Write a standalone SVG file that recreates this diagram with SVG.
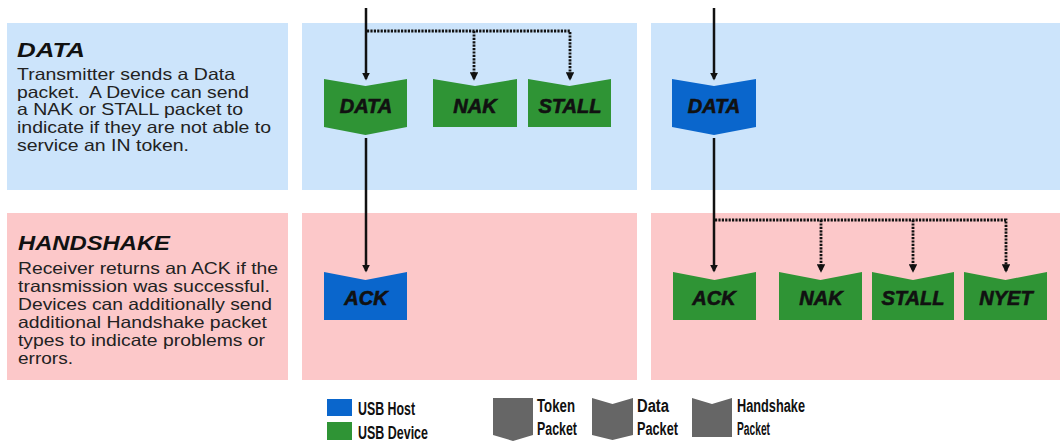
<svg xmlns="http://www.w3.org/2000/svg" width="1060" height="445" viewBox="0 0 1060 445">
<style>
.bg{fill:#fff}
.blue{fill:#cce4fb}
.pink{fill:#fcc8c9}
.host{fill:#0a66cc}
.dev{fill:#2f9435}
.gray{fill:#666}
.lbl{font-family:"Liberation Sans",Arial,sans-serif;font-weight:bold;font-style:italic;font-size:20px;fill:#111;stroke:#111;stroke-width:0.6;text-anchor:middle}
.head{font-family:"Liberation Sans",Arial,sans-serif;font-weight:bold;font-style:italic;font-size:21px;fill:#111}
.body{font-family:"Liberation Sans",Arial,sans-serif;font-size:16.5px;fill:#222}
.leg{font-family:"Liberation Sans",Arial,sans-serif;font-weight:bold;font-size:18px;fill:#111}
.solid{stroke:#111;stroke-width:2.5;fill:none}
.dot{stroke:#111;stroke-width:2.8;fill:none;stroke-dasharray:2.2 1.2}
</style>
<defs>
<marker id="ah" viewBox="0 0 10 10" refX="8" refY="5" markerWidth="3.2" markerHeight="3.2" orient="auto" markerUnits="strokeWidth">
<path d="M0,0 L10,5 L0,10 Z" fill="#111"/>
</marker>
<marker id="ahd" viewBox="0 0 10 10" refX="8" refY="5" markerWidth="3" markerHeight="3" orient="auto" markerUnits="strokeWidth">
<path d="M0,0 L10,5 L0,10 Z" fill="#111"/>
</marker>
</defs>
<rect class="bg" width="1060" height="445"/>

<g id="panels">
<rect class="blue" x="7" y="23" width="281" height="167"/>
<rect class="blue" x="302" y="23" width="335" height="167"/>
<rect class="blue" x="651" y="23" width="409" height="167"/>
<rect class="pink" x="7" y="213" width="281" height="167"/>
<rect class="pink" x="302" y="213" width="335" height="167"/>
<rect class="pink" x="651" y="213" width="409" height="167"/>
</g>

<g id="desc-data">
<text class="head" x="17" y="57" textLength="68" lengthAdjust="spacingAndGlyphs">DATA</text>
<text class="body" x="17" y="80" textLength="218" lengthAdjust="spacingAndGlyphs">Transmitter sends a Data</text>
<text class="body" x="17" y="97.5" textLength="232" lengthAdjust="spacingAndGlyphs" xml:space="preserve">packet.  A Device can send</text>
<text class="body" x="17" y="115" textLength="226" lengthAdjust="spacingAndGlyphs">a NAK or STALL packet to</text>
<text class="body" x="17" y="133" textLength="254" lengthAdjust="spacingAndGlyphs">indicate if they are not able to</text>
<text class="body" x="17" y="151" textLength="172" lengthAdjust="spacingAndGlyphs">service an IN token.</text>
</g>

<g id="desc-handshake">
<text class="head" x="18" y="250" textLength="152" lengthAdjust="spacingAndGlyphs">HANDSHAKE</text>
<text class="body" x="18" y="274" textLength="260" lengthAdjust="spacingAndGlyphs">Receiver returns an ACK if the</text>
<text class="body" x="18" y="292" textLength="252" lengthAdjust="spacingAndGlyphs">transmission was successful.</text>
<text class="body" x="18" y="310" textLength="254" lengthAdjust="spacingAndGlyphs">Devices can additionally send</text>
<text class="body" x="18" y="328" textLength="249" lengthAdjust="spacingAndGlyphs">additional Handshake packet</text>
<text class="body" x="18" y="346" textLength="247" lengthAdjust="spacingAndGlyphs">types to indicate problems or</text>
<text class="body" x="18" y="364" textLength="55" lengthAdjust="spacingAndGlyphs">errors.</text>
</g>

<g id="connectors">
<path class="solid" d="M366,8 V79" marker-end="url(#ah)"/>
<path class="solid" d="M366,138 V271" marker-end="url(#ah)"/>
<path class="solid" d="M714,8 V79" marker-end="url(#ah)"/>
<path class="solid" d="M714,138 V271" marker-end="url(#ah)"/>
<path class="dot" d="M367,31 H570 V79" marker-end="url(#ahd)"/>
<path class="dot" d="M474,31 V79" marker-end="url(#ahd)"/>
<path class="dot" d="M715,220 H1006 V271" marker-end="url(#ahd)"/>
<path class="dot" d="M821,220 V271" marker-end="url(#ahd)"/>
<path class="dot" d="M913,220 V271" marker-end="url(#ahd)"/>
</g>

<g id="n-data-dev">
<path class="dev" d="M324,79 L365.5,86 L407,79 V127 L365.5,135 L324,127 Z"/>
<text class="lbl" x="366" y="113">DATA</text>
</g>
<g id="n-nak-top">
<path class="dev" d="M433,79 L475,86 L517,79 V127 H433 Z"/>
<text class="lbl" x="475" y="113">NAK</text>
</g>
<g id="n-stall-top">
<path class="dev" d="M528,79 L569.5,86 L611,79 V127 H528 Z"/>
<text class="lbl" x="570" y="113">STALL</text>
</g>
<g id="n-data-host">
<path class="host" d="M672,79 L714,86 L756,79 V127 L714,135 L672,127 Z"/>
<text class="lbl" x="714" y="113">DATA</text>
</g>
<g id="n-ack-host">
<path class="host" d="M324,272 L365.5,280 L407,272 V320 H324 Z"/>
<text class="lbl" x="366" y="305">ACK</text>
</g>
<g id="n-ack-dev">
<path class="dev" d="M673,272 L714.5,280 L756,272 V320 H673 Z"/>
<text class="lbl" x="714" y="305">ACK</text>
</g>
<g id="n-nak-bot">
<path class="dev" d="M779,272 L820.5,280 L862,272 V320 H779 Z"/>
<text class="lbl" x="821" y="305">NAK</text>
</g>
<g id="n-stall-bot">
<path class="dev" d="M872,272 L913,280 L954,272 V320 H872 Z"/>
<text class="lbl" x="913" y="305">STALL</text>
</g>
<g id="n-nyet">
<path class="dev" d="M964,272 L1005.5,280 L1047,272 V320 H964 Z"/>
<text class="lbl" x="1006" y="305">NYET</text>
</g>

<g id="legend">
<rect class="host" x="327" y="399" width="25" height="17"/>
<rect class="dev" x="327" y="422" width="25" height="18"/>
<text class="leg" x="358" y="415" textLength="57" lengthAdjust="spacingAndGlyphs">USB Host</text>
<text class="leg" x="358" y="439" textLength="70" lengthAdjust="spacingAndGlyphs">USB Device</text>
<path class="gray" d="M493,398 H533 V435 L513,441 L493,435 Z"/>
<text class="leg" x="537" y="412" textLength="38" lengthAdjust="spacingAndGlyphs">Token</text>
<text class="leg" x="537" y="435" textLength="40" lengthAdjust="spacingAndGlyphs">Packet</text>
<path class="gray" d="M592,398 L612.5,404 L633,398 V435 L612.5,440 L592,435 Z"/>
<text class="leg" x="637" y="412" textLength="32" lengthAdjust="spacingAndGlyphs">Data</text>
<text class="leg" x="637" y="435" textLength="41" lengthAdjust="spacingAndGlyphs">Packet</text>
<path class="gray" d="M692,398 L712,404 L732,398 V437 H692 Z"/>
<text class="leg" x="737" y="412" textLength="68" lengthAdjust="spacingAndGlyphs">Handshake</text>
<text class="leg" x="737" y="435" textLength="33" lengthAdjust="spacingAndGlyphs">Packet</text>
</g>
</svg>
